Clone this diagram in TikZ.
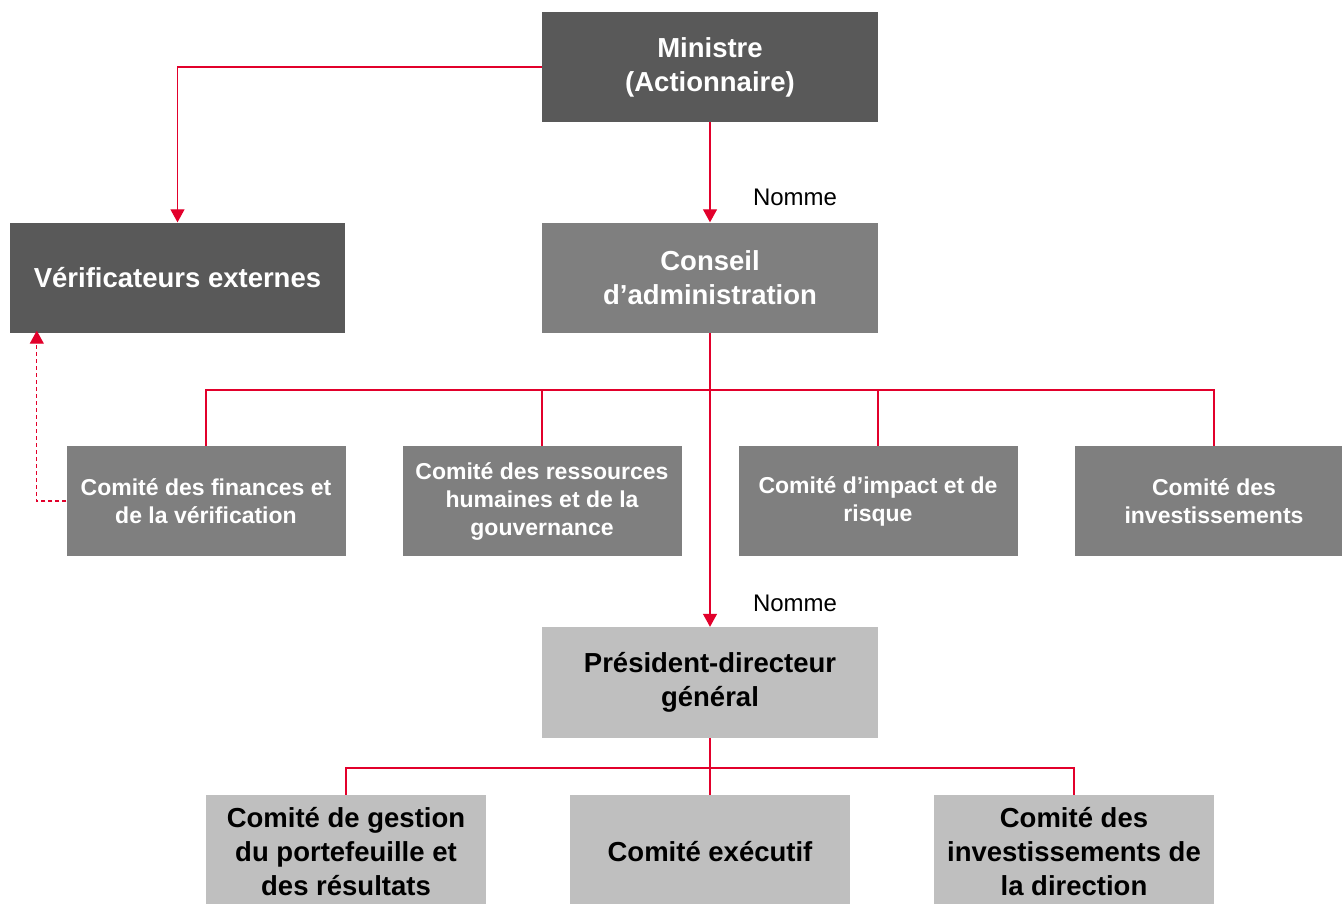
\documentclass[tikz,border=0pt]{standalone}
\usepackage{fontspec}
\setmainfont{Liberation Sans}
\usetikzlibrary{arrows.meta}
\definecolor{boxdark}{RGB}{89,89,89}
\definecolor{boxmid}{RGB}{127,127,127}
\definecolor{boxlight}{RGB}{191,191,191}
\definecolor{linkred}{RGB}{226,0,43}
\tikzset{
  box/.style={inner sep=0pt, align=center, font=\fontsize{27.5}{34}\selectfont\bfseries},
  darkbox/.style={box, fill=boxdark, text=white, minimum width=336pt, minimum height=110pt},
  midbox/.style={box, fill=boxmid, text=white, minimum width=336pt, minimum height=110pt},
  cttbox/.style={box, fill=boxmid, text=white, minimum width=279pt, minimum height=110pt,
    font=\fontsize{23}{28}\selectfont\bfseries},
  lightbox/.style={box, fill=boxlight, text=black, minimum width=336pt, minimum height=111pt},
  lowbox/.style={box, fill=boxlight, text=black, minimum width=280pt, minimum height=114pt},
  link/.style={draw=linkred, line width=1.2pt},
  tip/.style={-{Triangle[width=14pt,length=13pt]}},
  dashlink/.style={link, dash pattern=on 4pt off 3pt},
  nomme/.style={font=\fontsize{24}{28}\selectfont, text=black}
}
\begin{document}
\begin{tikzpicture}[x=1pt,y=-1pt]
\clip (0,0) rectangle (1342,903);
\fill[white] (0,0) rectangle (1342,903);
\node[darkbox] (min) at (710,67) {Ministre\\(Actionnaire)};
\node[darkbox, minimum width=335pt] (verif) at (177.5,277.5) {Vérificateurs externes};
\node[midbox] (cons) at (710,277.5) {Conseil\\d’administration};
\node[cttbox] (c1) at (206,501) {Comité des finances et\\de la vérification};
\node[cttbox] (c2) at (542,501) {Comité des ressources\\humaines et de la\\gouvernance};
\node[cttbox] (c3) at (878,501) {Comité d’impact et de\\risque};
\node[cttbox] (c4) at (1214,501) {Comité des\\investissements};
\node[lightbox] (pdg) at (710,682.5) {Président-directeur\\général};
\node[lowbox] (b1) at (346,852) {Comité de gestion\\du portefeuille et\\des résultats};
\node[lowbox] (b2) at (710,852) {Comité exécutif};
\node[lowbox] (b3) at (1074,852) {Comité des\\investissements de\\la direction};
\node[nomme] (n1) at (795,197) {Nomme};
\node[nomme] (n2) at (795,603) {Nomme};
\coordinate (bus) at (710,390);
\coordinate (bus2) at (710,768);
\draw[link,tip] (min.west) -| (verif.north);
\draw[link,tip] (min.south) -- (cons.north);
\draw[link,tip] (cons.south) -- (pdg.north);
\draw[link] (c1.north) |- (bus) -| (c4.north);
\draw[link] (c2.north) -- (c2.north |- bus);
\draw[link] (c3.north) -- (c3.north |- bus);
\draw[dashlink,tip] (c1.west) -| ([xshift=27pt,yshift=2pt]verif.south west);
\draw[link] (pdg.south) -- (b2.north);
\draw[link] (b1.north) |- (bus2) -| (b3.north);
\end{tikzpicture}
\end{document}
